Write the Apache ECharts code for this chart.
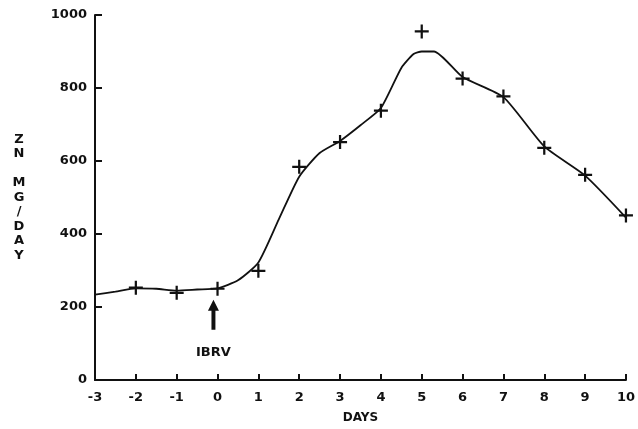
<!DOCTYPE html>
<html>
<head>
<meta charset="utf-8">
<script src="https://cdn.jsdelivr.net/npm/echarts@6/dist/echarts.min.js"></script>
<style>
  html, body { margin: 0; padding: 0; background: #fff; }
  #chart { width: 638px; height: 429px; }
</style>
</head>
<body>
<div id="chart"></div>
<script>
// measured points (crosses)
const dayPoints = [-2, -1, 0, 1, 2, 3, 4, 5, 6, 7, 8, 9, 10];
const znPoints = [253, 239, 250, 299, 584, 652, 738, 955, 826, 777, 636, 562, 451];

// fitted curve drawn through the data
const curveDays = [-3, -2.5, -2, -1.5, -1, -0.5, 0, 0.5, 1, 1.5, 2, 2.5, 3, 3.5, 4, 4.5, 4.8, 5, 5.3, 6, 7, 8, 9, 10];
const curveZn = [234, 242, 251, 250, 245, 248, 251, 273, 322, 440, 557, 622, 655, 698, 745, 855, 893, 900, 900, 830, 775, 640, 560, 445];

const yTicks = [0, 200, 400, 600, 800, 1000];
const yTickLabels = ['0', '200', '400', '600', '800', '1000'];

// annotation arrow "IBRV" at day 0
const arrowDay = -0.1;
const arrowZn = 179;
const arrowText = 'IBRV';

const font = 'DejaVu Sans';
const ink = '#111';

const plusPath = 'path://M4.2,0 H5.8 V4.2 H10 V5.8 H5.8 V10 H4.2 V5.8 H0 V4.2 H4.2 Z';
const arrowPath = 'path://M5,0 L10,11 L6.8,11 L6.8,30 L3.2,30 L3.2,11 L0,11 Z';

const chart = echarts.init(document.getElementById('chart'));

chart.setOption({
    animation: false,
    backgroundColor: '#fff',
    grid: { left: 95, right: 7, top: 15, bottom: 46 },
    xAxis: {
        type: 'value',
        min: -3,
        max: 10,
        interval: 1,
        name: 'DAYS',
        nameLocation: 'middle',
        nameGap: 32,
        nameTextStyle: { fontFamily: font, fontWeight: 'bold', fontSize: 12, color: ink },
        axisLine: { onZero: false, lineStyle: { color: ink, width: 2 } },
        axisTick: { inside: true, length: 6, lineStyle: { color: ink, width: 2 } },
        axisLabel: { fontFamily: font, fontWeight: 'bold', fontSize: 13, color: ink, margin: 11 },
        splitLine: { show: false }
    },
    yAxis: {
        type: 'value',
        min: 0,
        max: 1000,
        interval: 200,
        name: 'Z\nN\n\nM\nG\n/\nD\nA\nY',
        nameLocation: 'middle',
        nameRotate: 0,
        nameGap: 76,
        nameTextStyle: { fontFamily: font, fontWeight: 'bold', fontSize: 13, lineHeight: 14.5, color: ink, align: 'center' },
        axisLine: { onZero: false, lineStyle: { color: ink, width: 2 } },
        axisTick: { inside: true, length: 7, lineStyle: { color: ink, width: 2 } },
        axisLabel: {
            fontFamily: font, fontWeight: 'bold', fontSize: 13, color: ink, margin: 8,
            formatter: v => yTickLabels[yTicks.indexOf(v)]
        },
        splitLine: { show: false }
    },
    series: [
        {
            type: 'line',
            data: curveDays.map((d, i) => [d, curveZn[i]]),
            smooth: 0.2,
            showSymbol: false,
            lineStyle: { color: ink, width: 1.8 }
        },
        {
            type: 'scatter',
            data: dayPoints.map((d, i) => [d, znPoints[i]]),
            symbol: plusPath,
            symbolSize: 14,
            itemStyle: { color: ink, opacity: 1 },
            markPoint: {
                silent: true,
                data: [{
                    coord: [arrowDay, arrowZn],
                    symbol: arrowPath,
                    symbolSize: [11, 30],
                    itemStyle: { color: ink },
                    label: {
                        show: true,
                        formatter: arrowText,
                        position: 'bottom',
                        distance: 16,
                        fontFamily: font,
                        fontWeight: 'bold',
                        fontSize: 13,
                        color: ink
                    }
                }]
            }
        }
    ]
});
</script>
</body>
</html>
